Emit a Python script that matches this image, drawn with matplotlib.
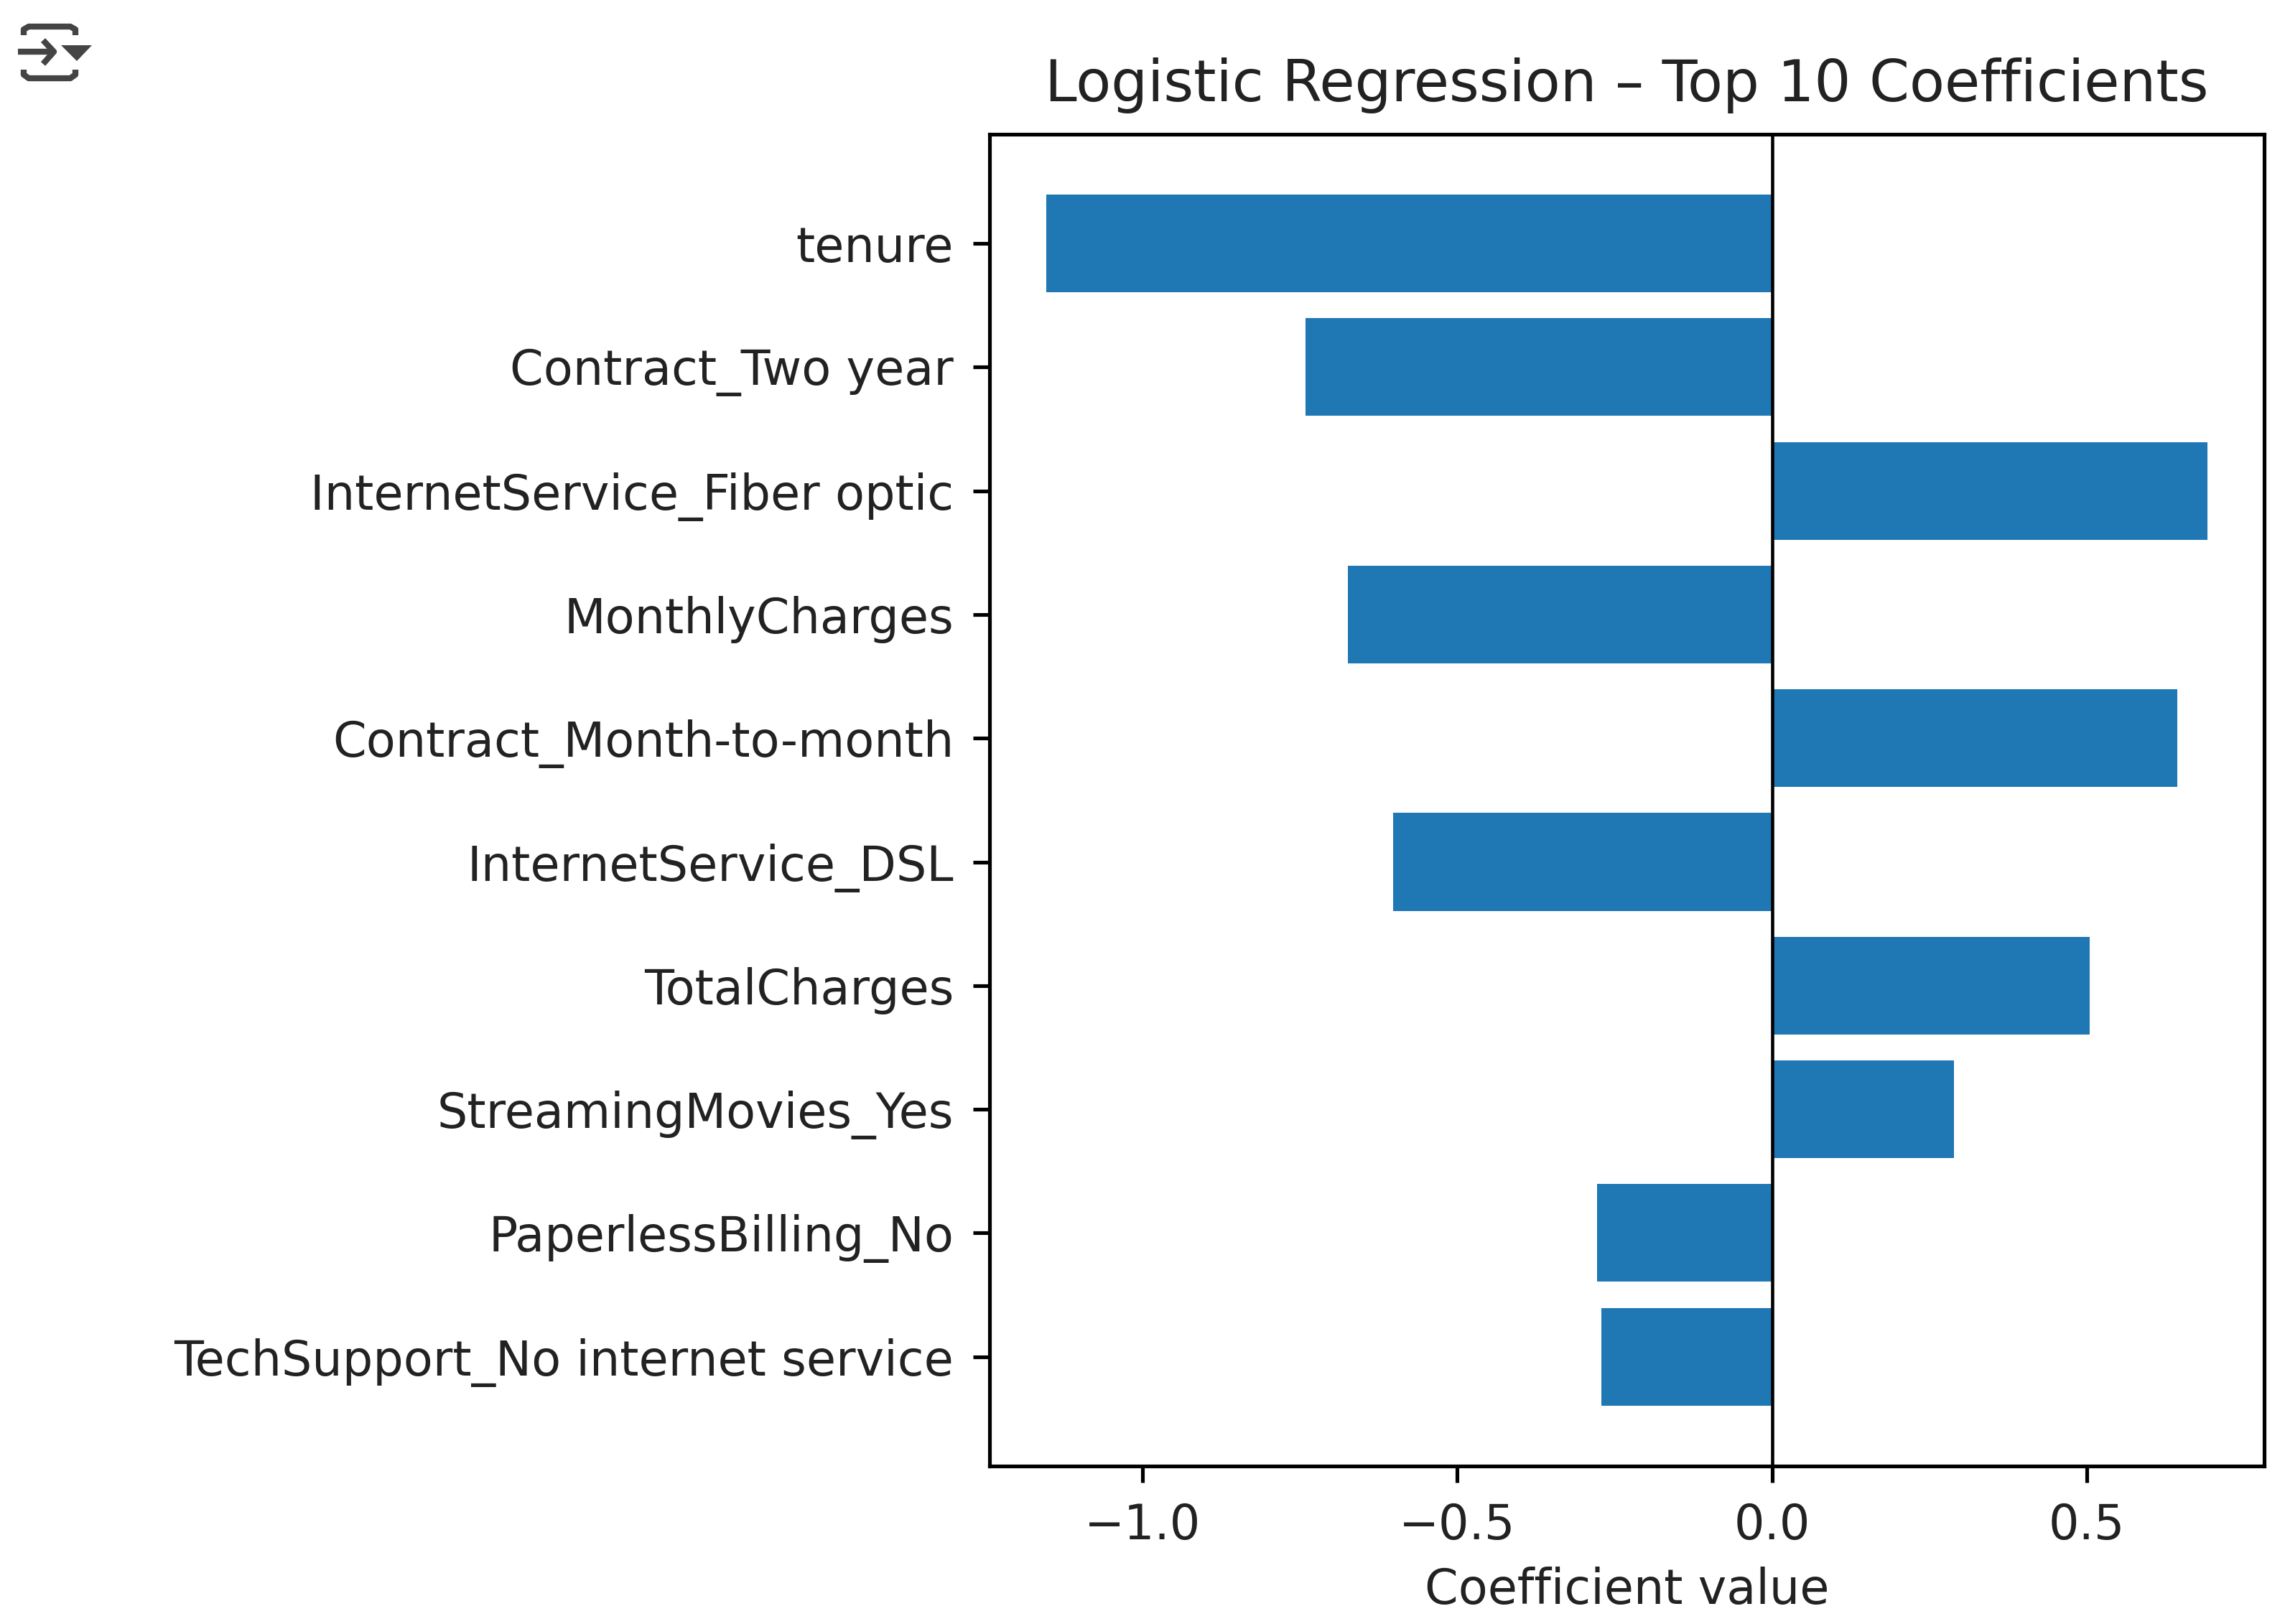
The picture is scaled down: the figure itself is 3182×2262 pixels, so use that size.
import matplotlib
matplotlib.use("Agg")
import matplotlib.pyplot as plt

features = ["tenure", "Contract_Two year", "InternetService_Fiber optic", "MonthlyCharges",
            "Contract_Month-to-month", "InternetService_DSL", "TotalCharges",
            "StreamingMovies_Yes", "PaperlessBilling_No", "TechSupport_No internet service"]
coefs = [-1.153, -0.741, 0.692, -0.674, 0.644, -0.602, 0.505, 0.289, -0.278, -0.271]

S = 2.325  # upscaling of the original notebook image
FS = S * 1.036

fig = plt.figure(figsize=(15.91, 11.31), dpi=200)
ax = fig.add_axes([0.433, 0.0972, 0.558, 0.8203])

ax.barh(features, coefs, height=0.79, color="#1f77b4")
ax.axvline(0, color="black", linewidth=0.7 * S)
ax.invert_yaxis()
ax.set_xlim(-1.243, 0.782)
ax.set_xticks([-1.0, -0.5, 0.0, 0.5])

ax.set_title("Logistic Regression – Top 10 Coefficients", fontsize=12 * FS, pad=7 * S, color="#222222")
ax.set_xlabel("Coefficient value", fontsize=10 * FS, labelpad=3.7 * S, color="#222222")
ax.tick_params(labelsize=10 * FS, width=0.8 * S, length=3.5 * S, pad=4.2 * S, labelcolor="#222222")
for s in ax.spines.values():
    s.set_linewidth(0.8 * S)

# notebook output icon in the top left corner, in image pixels
icon = fig.add_axes([0, 0, 1, 1], facecolor="none")
icon.set_xlim(0, 3182)
icon.set_ylim(2262, 0)
icon.axis("off")
icon_style = dict(color="#444444", linewidth=3.0, solid_capstyle="butt", solid_joinstyle="round")
icon.plot([33, 33, 40, 98, 105, 105], [49, 41, 37, 37, 41, 49], **icon_style)
icon.plot([33, 33, 40, 98, 105, 105], [97, 104, 109, 109, 104, 97], **icon_style)
icon.plot([25, 74], [72, 72], **icon_style)
icon.plot([60, 75, 60], [56, 72, 89], **icon_style)
icon.fill([85, 128, 107], [63, 63, 85], color="#444444", linewidth=0)

fig.savefig("out.png", dpi=200)
